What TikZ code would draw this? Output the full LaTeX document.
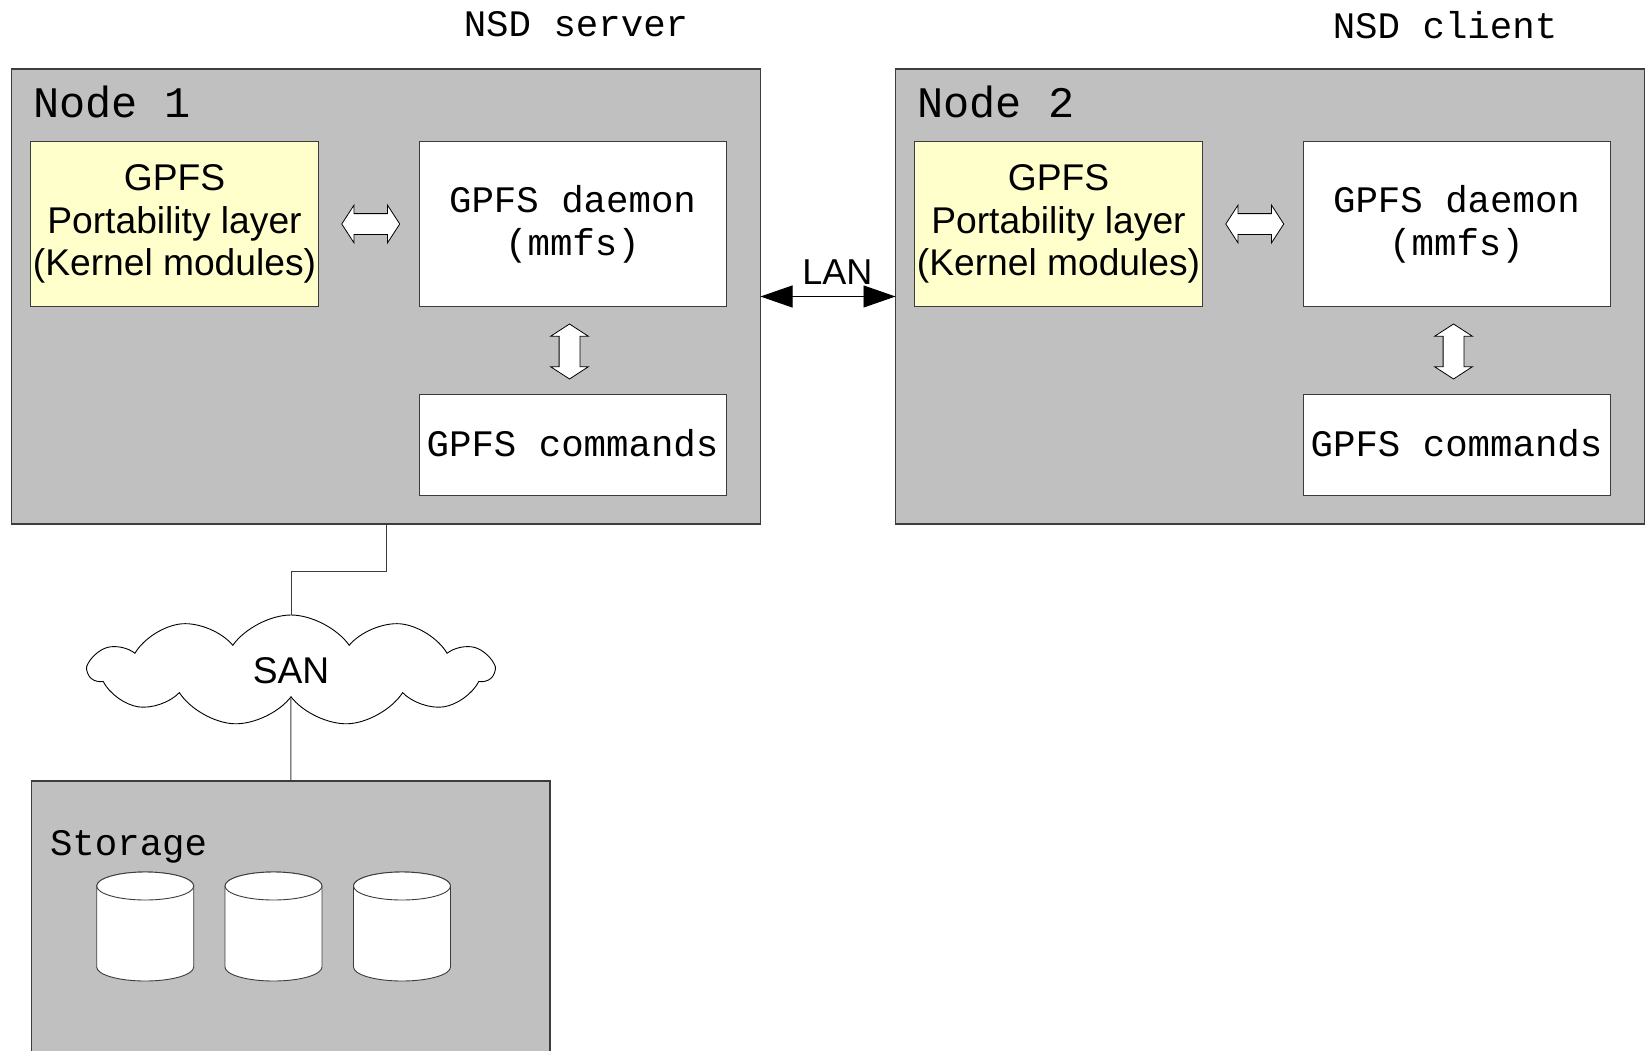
\documentclass[tikz,border=0pt]{standalone}
\usepackage{fontspec}
\setmainfont{Liberation Sans}
\setmonofont{Liberation Mono}
\usepackage{tikz}
\usetikzlibrary{shapes.symbols, shapes.arrows, positioning, calc, arrows.meta}

\definecolor{hostgray}{RGB}{192,192,192}
\definecolor{layeryellow}{RGB}{255,255,204}
\definecolor{edgegray}{RGB}{60,60,60}

\begin{document}
\begin{tikzpicture}[
    x=1pt, y=-1pt,
    every node/.style={inner sep=0, outer sep=0},
    mono/.style={font=\fontsize{37.4}{43}\selectfont\ttfamily},
    title/.style={font=\fontsize{43.6}{50}\selectfont\ttfamily},
    sans/.style={font=\fontsize{37.2}{42.5}\selectfont},
    host/.style={rectangle, draw=edgegray, fill=hostgray, line width=1.3pt,
      minimum width=749pt, minimum height=455pt},
    layer/.style={rectangle, draw=edgegray, fill=layeryellow, line width=1pt,
      minimum width=288pt, minimum height=164pt, align=center, sans},
    proc/.style={rectangle, draw=edgegray, fill=white, line width=1pt,
      minimum width=307pt, align=center, mono},
    dblarrow/.style={double arrow, draw=black, fill=white, line width=0.8pt,
      inner sep=10pt, double arrow head extend=8.5pt, double arrow tip angle=114,
      minimum width=37pt},
    disk/.style={draw=edgegray, fill=white, line width=0.9pt},
    wire/.style={draw=edgegray, line width=1pt},
    lan/.style={{Triangle[length=32pt,width=22pt]}-{Triangle[length=32pt,width=22pt]},
      draw=black, line width=0.9pt}]

  \fill[white] (0,0) rectangle (1648,1051);
  \useasboundingbox (0,0) rectangle (1648,1051);
  \clip (0,0) rectangle (1648,1051);

  % server
  \node[host] (node-1) at (386, 296.5) {};
  \node[title, anchor=base west] (label-1) at ($(node-1.north west)+(21.9,49)$) {Node 1};
  \node[mono, anchor=base] (server) at (576, 37) {NSD server};
  \node[layer] (portab-1) at ($(node-1.north west)+(163,155)$)
    {GPFS\\Portability layer\\(Kernel modules)};
  \node[proc, minimum height=164pt, right=100.5pt of portab-1] (daemon-1) {GPFS daemon\\(mmfs)};
  \node[proc, minimum height=101pt, text depth=4pt, below=88pt of daemon-1] (cmds-1) {GPFS commands};
  \node[dblarrow, minimum height=58pt] (pd-1) at ($(portab-1.east)!0.5!(daemon-1.west)+(2,0)$) {};
  \node[dblarrow, minimum height=55pt, shape border rotate=90] (dc-1)
    at ($(daemon-1.south)!0.5!(cmds-1.north)+(-3,1.5)$) {};

  % client
  \node[host, right=135pt of node-1] (node-2) {};
  \node[title, anchor=base west] (label-2) at ($(node-2.north west)+(21.9,49)$) {Node 2};
  \node[mono, anchor=base] (client) at (1445, 39) {NSD client};
  \node[layer] (portab-2) at ($(node-2.north west)+(163,155)$)
    {GPFS\\Portability layer\\(Kernel modules)};
  \node[proc, minimum height=164pt, right=100.5pt of portab-2] (daemon-2) {GPFS daemon\\(mmfs)};
  \node[proc, minimum height=101pt, text depth=4pt, below=88pt of daemon-2] (cmds-2) {GPFS commands};
  \node[dblarrow, minimum height=58pt] (pd-2) at ($(portab-2.east)!0.5!(daemon-2.west)+(2,0)$) {};
  \node[dblarrow, minimum height=55pt, shape border rotate=90] (dc-2)
    at ($(daemon-2.south)!0.5!(cmds-2.north)+(-3,1.5)$) {};

  \draw[lan] (node-1.east) -- (node-2.west)
    node[sans, pos=0.57, above=12pt, font=\fontsize{36}{40}\selectfont] (lan-label) {LAN};

  % storage
  \node[cloud, cloud puffs=11, cloud puff arc=110, aspect=2.6, draw=black, fill=white,
    line width=0.9pt, minimum width=404pt, minimum height=111pt, sans] (san) at (291, 670.5) {SAN};
  \node[host, minimum width=518.5pt, minimum height=330pt] (store) at (290.75, 946) {};
  \node[mono, anchor=base west] (store-label) at (50, 855) {Storage};
  \foreach \x in {145.2, 273.5, 402} {
    \filldraw[disk] (\x-48.5, 886) -- (\x-48.5, 967)
      arc[start angle=180, end angle=0, x radius=48.5, y radius=14]
      -- (\x+48.5, 886) arc[start angle=0, end angle=-180, x radius=48.5, y radius=14] -- cycle;
    \draw[disk] (\x, 886) ellipse[x radius=48.5, y radius=14];
  }

  \draw[wire] (node-1.south) -- ++(0,47) -| (san.north);
  \draw[wire] (san.south) -- (store.north);
\end{tikzpicture}
\end{document}
